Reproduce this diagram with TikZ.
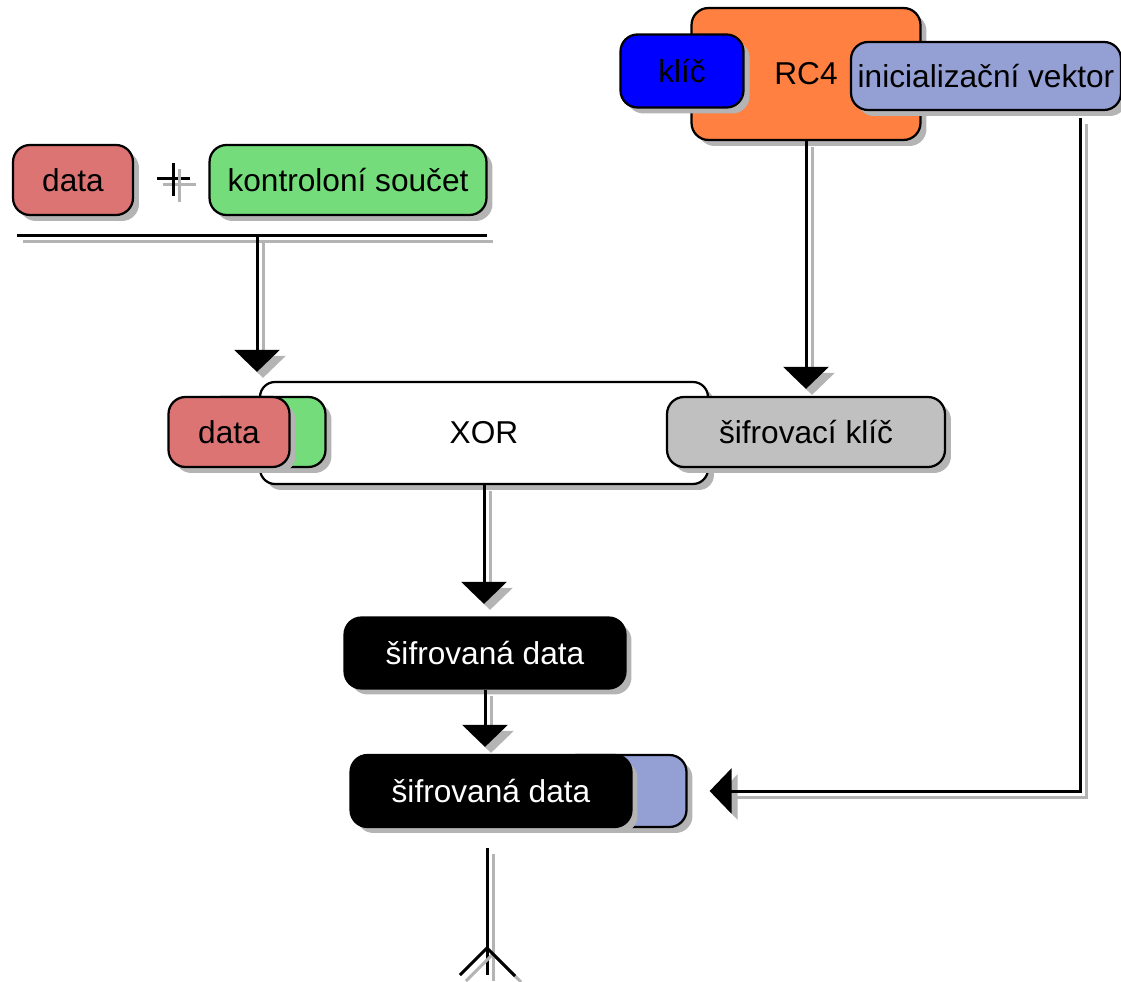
\documentclass[tikz,border=0pt]{standalone}
\usepackage{fontspec}
\setmainfont{Liberation Sans}
\usetikzlibrary{arrows.meta,shadows,calc}

\definecolor{rcorange}{RGB}{255,128,64}
\definecolor{keyblue}{RGB}{0,0,255}
\definecolor{ivblue}{RGB}{148,160,212}
\definecolor{datared}{RGB}{220,116,116}
\definecolor{sumgreen}{RGB}{116,220,122}
\definecolor{cipgray}{RGB}{192,192,192}
\definecolor{shadowgray}{RGB}{180,180,180}

\tikzset{
  block/.style={
    draw=black,
    line width=0.045cm,
    rounded corners=0.34cm,
    minimum height=1.4cm,
    inner sep=0pt,
    font=\fontsize{18}{20}\selectfont,
    drop shadow={shadow xshift=0.12cm, shadow yshift=-0.12cm, fill=shadowgray, opacity=1},
  },
  wire/.style={line width=0.06cm},
  link/.style={wire, -{Triangle[width=0.9cm,length=0.44cm]}},
}
% every line is drawn twice: grey shadow first, black on top
\newcommand{\wirepath}[3][wire]{
    \draw[#1, shadowgray] ($(#2)+(6,6)$) -- ($(#3)+(6,6)$);
    \draw[#1] (#2) -- (#3);
}

\begin{document}
\begin{tikzpicture}[x=0.02cm, y=-0.02cm]
            \useasboundingbox (0,0) rectangle (1121,982);
            \clip (0,0) rectangle (1121,982);

            \node[block, fill=rcorange, minimum width=4.58cm, minimum height=2.64cm] (rc4) at (806,74) {RC4};
            \node[block, fill=keyblue, minimum width=2.46cm, minimum height=1.46cm] (key) at (682,71) {klíč};
            \node[block, fill=ivblue, minimum width=5.4cm, minimum height=1.36cm] (iv) at (986,76) {inicializační vektor};

            \node[block, fill=datared, minimum width=2.4cm] (data) at (73,180) {data};
            \node[block, fill=sumgreen, minimum width=5.54cm] (sum) at (348,180) {kontroloní součet};

            % plus sign
            \coordinate (plusl) at (157,179);
            \coordinate (plusr) at (190,179);
            \coordinate (plust) at (173,163);
            \coordinate (plusb) at (173,196);
            \wirepath{plusl}{plusr}
            \wirepath{plust}{plusb}

            \coordinate (barl) at (17,236);
            \coordinate (barr) at (487,236);
            \coordinate (bar)  at (257,236);
            \wirepath{barl}{barr}

            \node[block, fill=white, rounded corners=0.3cm, minimum width=8.96cm, minimum height=2.04cm] (xor) at (484,433) {XOR};
            \node[block, fill=sumgreen, minimum width=2.42cm] (dsum) at (265,432) {};
            \node[block, fill=datared, minimum width=2.42cm] (dat) at (229,432) {data};
            \node[block, fill=cipgray, minimum width=5.56cm] (ck) at (806,432) {šifrovací klíč};

            \node[block, fill=black, text=white, minimum width=5.62cm, minimum height=1.42cm] (enc) at (485,653) {šifrovaná data};
            \node[block, fill=ivblue, minimum width=2.54cm, minimum height=1.44cm] (encv) at (623,791) {};
            \node[block, fill=black, text=white, minimum width=5.62cm, minimum height=1.44cm] (encd) at (491,791) {šifrovaná data};

            \coordinate (xorin)  at (bar |- xor.north);
            \coordinate (xorout) at (xor.south);
            \coordinate (encin)  at (xorout |- enc.north);
            \coordinate (encout) at (enc.south);
            \coordinate (encdin) at (encout |- encd.north);
            \coordinate (ivout)  at (1080,118);
            \coordinate (ivturn) at (ivout |- encv.east);
            \coordinate (sinktop) at (487,848);
            \coordinate (fork) at (487,948);
            \coordinate (sink) at (487,975);
            \coordinate (forkl) at (460,975);
            \coordinate (forkr) at (515,976);

            \wirepath[link, shorten >=0.18cm]{bar}{xorin}
            \wirepath[link, shorten >=0.14cm]{rc4.south}{ck.north}
            \wirepath[link, shorten >=0.25cm]{xorout}{encin}
            \wirepath[link, shorten >=0.14cm]{encout}{encdin}
            \draw[link, shadowgray, shorten >=0.44cm] ($(ivout)+(6,6)$) -- ($(ivturn)+(6,6)$) -- ($(encv.east)+(6,6)$);
            \draw[link, shorten >=0.44cm] (ivout) -- (ivturn) -- (encv.east);

            \wirepath{sinktop}{sink}
            \wirepath{fork}{forkl}
            \wirepath{fork}{forkr}
        \end{tikzpicture}
\end{document}
